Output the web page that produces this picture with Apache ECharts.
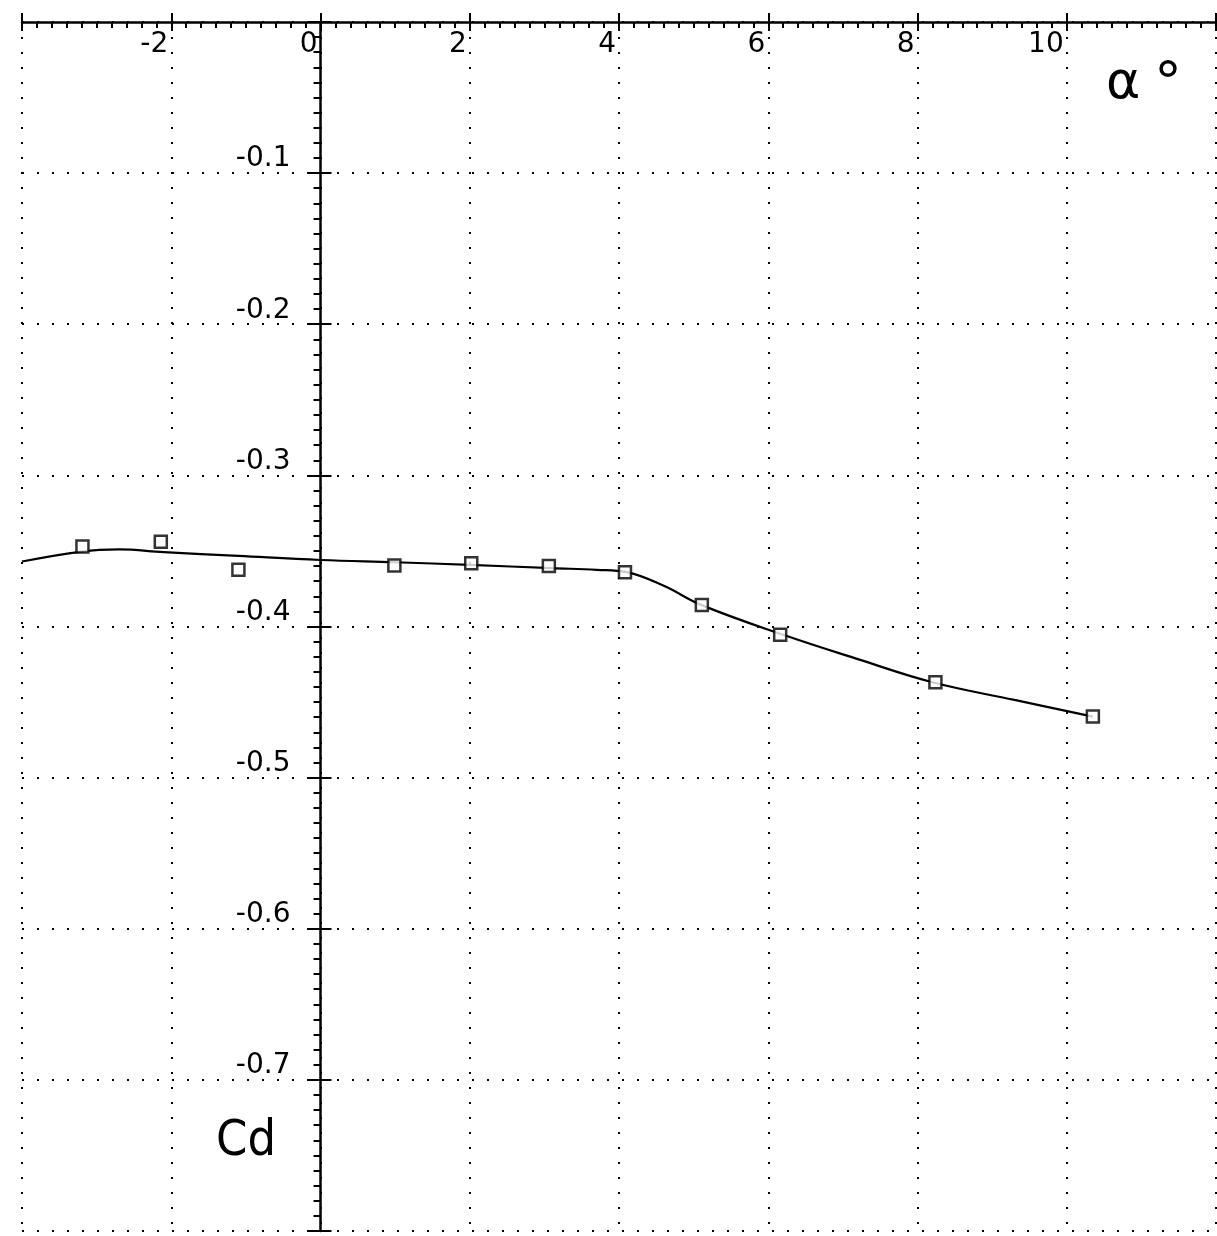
<!DOCTYPE html>
<html>
<head>
<meta charset="utf-8">
<script src="https://cdn.jsdelivr.net/npm/echarts@6/dist/echarts.min.js"></script>
<style>
  html, body { margin: 0; padding: 0; background: #fff; }
  #main { width: 1217px; height: 1236px; }
</style>
</head>
<body>
<div id="main"></div>
<script>
// measured points (squares)
var alphaPts = [-3.19, -2.14, -1.10, 0.99, 2.02, 3.06, 4.08, 5.11, 6.16, 8.24, 10.35];
var cdPts = [-0.347, -0.344, -0.3625, -0.3597, -0.3581, -0.3599, -0.3641, -0.3857, -0.4055, -0.4369, -0.4596];

// faired curve through the points
var curveAlpha = [-4.0, -3.2, -2.7, -2.1, -1.1, 0, 1.0, 2.0, 3.1, 3.7, 4.1, 4.6, 5.1, 6.2, 7.2, 8.2, 9.3, 10.35];
var curveCd = [-0.357, -0.3504, -0.349, -0.3508, -0.3533, -0.356, -0.3575, -0.3592, -0.3614, -0.3625, -0.364, -0.3731, -0.3857, -0.4055, -0.4216, -0.4369, -0.4486, -0.4596];

// axis labels shown
var xTickLabels = ['-2', '0', '2', '4', '6', '8', '10'];
var yTickLabels = ['-0.1', '-0.2', '-0.3', '-0.4', '-0.5', '-0.6', '-0.7'];

var chart = echarts.init(document.getElementById('main'));

var font = 'DejaVu Sans';
var dotted = { color: '#000', width: 2, type: [2, 13] };

var gridLeft = 22, gridRight = 1;
var plotW = 1217 - gridLeft - gridRight;
// shift of the vertical axis to alpha = 0
var yAxisShift = -plotW * 4 / 16;

var pointData = alphaPts.map(function (a, i) { return [a, cdPts[i]]; });
var curveData = curveAlpha.map(function (a, i) { return [a, curveCd[i]]; });

option = {
    backgroundColor: '#fff',
    animation: false,
    grid: { left: gridLeft, right: gridRight, top: 22, bottom: 5, containLabel: false, outerBoundsMode: 'none' },
    xAxis: [{
        type: 'value',
        position: 'top',
        min: -4, max: 12, interval: 2,
        axisLine: { onZero: false, lineStyle: { color: '#000', width: 2.5 } },
        axisTick: { inside: true, length: 9, lineStyle: { color: '#000', width: 2 } },
        minorTick: { show: true, splitNumber: 10, length: 6, lineStyle: { color: '#000', width: 2 } },
        axisLabel: {
            inside: true,
            margin: 9,
            align: 'right',
            verticalAlign: 'top',
            padding: [0, 3, 0, 0],
            color: '#000',
            fontFamily: font,
            fontSize: 28,
            formatter: function (v) {
                var s = String(Math.round(v));
                return xTickLabels.indexOf(s) >= 0 ? s : '';
            }
        },
        splitLine: { show: true, lineStyle: dotted }
    }, {
        type: 'value',
        position: 'top',
        min: -4, max: 12, interval: 2,
        axisLine: { show: false, onZero: false },
        axisTick: { inside: false, length: 9, lineStyle: { color: '#000', width: 2 } },
        axisLabel: { show: false },
        splitLine: { show: false }
    }],
    yAxis: [{
        type: 'value',
        position: 'left',
        offset: yAxisShift,
        min: -0.8, max: 0, interval: 0.1,
        axisLine: { onZero: false, lineStyle: { color: '#000', width: 2.5 } },
        axisTick: { inside: false, length: 12, lineStyle: { color: '#000', width: 2 } },
        minorTick: { show: true, splitNumber: 10, length: 7, lineStyle: { color: '#000', width: 2 } },
        axisLabel: {
            margin: 30,
            align: 'right',
            verticalAlign: 'bottom',
            color: '#000',
            fontFamily: font,
            fontSize: 28,
            formatter: function (v) {
                var s = v.toFixed(1);
                return yTickLabels.indexOf(s) >= 0 ? s : '';
            }
        },
        splitLine: { show: true, lineStyle: dotted }
    }, {
        type: 'value',
        position: 'left',
        offset: yAxisShift,
        min: -0.8, max: 0, interval: 0.1,
        axisLine: { show: false, onZero: false },
        axisTick: { inside: true, length: 11, lineStyle: { color: '#000', width: 2 } },
        axisLabel: { show: false },
        splitLine: { show: false }
    }],
    graphic: [
        { type: 'text', left: 1106, top: 58, style: { text: 'α', font: '52px ' + font, fill: '#000' } },
        { type: 'text', left: 1154, top: 58, style: { text: '°', font: '56px ' + font, fill: '#000' } },
        { type: 'text', left: 216, top: 1117, style: { text: 'Cd', font: '50px "DejaVu Sans Condensed", ' + font, fill: '#000' } }
    ],
    series: [{
        name: 'curve',
        type: 'line',
        smooth: 0.4,
        showSymbol: false,
        data: curveData,
        lineStyle: { color: '#000', width: 2.2 },
        z: 3
    }, {
        name: 'Cd',
        type: 'scatter',
        symbol: 'rect',
        symbolSize: 12,
        data: pointData,
        itemStyle: { color: '#fff', borderColor: '#000', borderWidth: 2.5 },
        z: 4
    }]
};

chart.setOption(option);
</script>
</body>
</html>
